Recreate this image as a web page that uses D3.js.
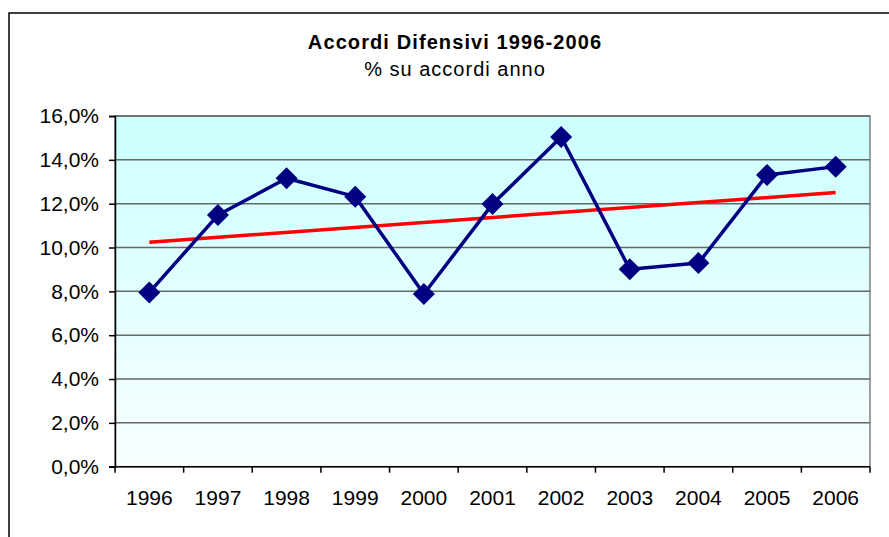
<!DOCTYPE html>
<html>
<head>
<meta charset="utf-8">
<script src="https://cdn.jsdelivr.net/npm/d3@7/dist/d3.min.js"></script>
<style>
  html, body { margin: 0; padding: 0; background: #fff; }
  svg { display: block; font-family: "Liberation Sans", Arial, sans-serif; }
</style>
</head>
<body>
<svg id="chart" width="889" height="537"></svg>
<script>
// Anni e quota di accordi difensivi sul totale annuo (%)
const years = ["1996", "1997", "1998", "1999", "2000", "2001", "2002", "2003", "2004", "2005", "2006"];
const shares = [7.95, 11.48, 13.16, 12.32, 7.88, 11.98, 15.04, 9.01, 9.29, 13.31, 13.69];
const yTicks = [0, 2, 4, 6, 8, 10, 12, 14, 16];
const titleText = "Accordi Difensivi 1996-2006";
const subtitleText = "% su accordi anno";

const svg = d3.select("#chart");
const W = 889, H = 537;
const plot = { left: 115, top: 116, right: 870, bottom: 466.7 };

// cornice esterna del grafico
svg.append("rect")
  .attr("x", 9).attr("y", 13)
  .attr("width", W + 20).attr("height", H + 20)
  .attr("fill", "#fff").attr("stroke", "#000").attr("stroke-width", 1.5);

const x = d3.scaleBand().domain(years).range([plot.left, plot.right]).padding(0);
const y = d3.scaleLinear().domain([0, 16]).range([plot.bottom, plot.top]);

// sfondo sfumato dell'area del tracciato
const defs = svg.append("defs");
const grad = defs.append("linearGradient").attr("id", "bg").attr("x1", 0).attr("y1", 0).attr("x2", 0).attr("y2", 1);
grad.append("stop").attr("offset", "0%").attr("stop-color", "#ccffff");
grad.append("stop").attr("offset", "100%").attr("stop-color", "#f8ffff");

svg.append("rect")
  .attr("x", plot.left).attr("y", plot.top)
  .attr("width", plot.right - plot.left).attr("height", plot.bottom - plot.top)
  .attr("fill", "url(#bg)").attr("stroke", "#808080").attr("stroke-width", 1.5);

// griglia orizzontale
svg.append("g")
  .selectAll("line")
  .data(yTicks.filter(d => d > 0))
  .join("line")
  .attr("x1", plot.left).attr("x2", plot.right)
  .attr("y1", d => y(d)).attr("y2", d => y(d))
  .attr("stroke", "#666").attr("stroke-width", 1.5);

// asse Y
const yAxis = svg.append("g")
  .attr("transform", `translate(${plot.left},0)`)
  .call(d3.axisLeft(y).tickValues(yTicks).tickSize(6).tickPadding(10)
    .tickFormat(d => d.toFixed(1).replace(".", ",") + "%"));
yAxis.select(".domain").attr("stroke", "#000").attr("stroke-width", 1.5);
yAxis.selectAll(".tick line").attr("stroke", "#000").attr("stroke-width", 1.5);
yAxis.selectAll(".tick text").attr("font-size", 21).attr("fill", "#000")
  .attr("font-family", "Liberation Sans, Arial, sans-serif");

// asse X con tacche ai confini delle categorie
const xAxisG = svg.append("g").attr("transform", `translate(0,${plot.bottom})`);
xAxisG.append("line")
  .attr("x1", plot.left - 6).attr("x2", plot.right)
  .attr("stroke", "#000").attr("stroke-width", 1.5);
const bounds = years.map(d => x(d)).concat([x(years[years.length - 1]) + x.bandwidth()]);
xAxisG.selectAll("line.tk")
  .data(bounds)
  .join("line").attr("class", "tk")
  .attr("x1", d => d).attr("x2", d => d)
  .attr("y1", 0).attr("y2", 6)
  .attr("stroke", "#000").attr("stroke-width", 1.5);
xAxisG.selectAll("text")
  .data(years)
  .join("text")
  .attr("x", d => x(d) + x.bandwidth() / 2)
  .attr("y", 38.5)
  .attr("text-anchor", "middle")
  .attr("font-size", 21)
  .attr("fill", "#000")
  .text(d => d);

// linea di tendenza lineare (minimi quadrati)
const idx = shares.map((_, i) => i);
const mx = d3.mean(idx), my = d3.mean(shares);
const slope = d3.sum(idx, i => (i - mx) * (shares[i] - my)) / d3.sum(idx, i => (i - mx) ** 2);
const intercept = my - slope * mx;
const cx = d => x(d) + x.bandwidth() / 2;

svg.append("line")
  .attr("x1", cx(years[0])).attr("y1", y(intercept))
  .attr("x2", cx(years[years.length - 1])).attr("y2", y(intercept + slope * (years.length - 1)))
  .attr("stroke", "#ff0000").attr("stroke-width", 3.5);

// serie
const line = d3.line().x((d, i) => cx(years[i])).y(d => y(d));
svg.append("path")
  .datum(shares)
  .attr("d", line)
  .attr("fill", "none")
  .attr("stroke", "#000080")
  .attr("stroke-width", 3.5)
  .attr("stroke-linejoin", "round");

svg.append("g")
  .selectAll("path")
  .data(shares)
  .join("path")
  .attr("transform", (d, i) => `translate(${cx(years[i])},${y(d)})`)
  .attr("d", "M0,-11L11,0L0,11L-11,0Z")
  .attr("fill", "#000080");

// titoli
svg.append("text")
  .attr("x", 455).attr("y", 48.5)
  .attr("text-anchor", "middle")
  .attr("font-size", 20).attr("font-weight", "bold")
  .attr("letter-spacing", 1.1)
  .text(titleText);
svg.append("text")
  .attr("x", 455).attr("y", 75.5)
  .attr("text-anchor", "middle")
  .attr("font-size", 20)
  .attr("letter-spacing", 1)
  .text(subtitleText);
</script>
</body>
</html>
